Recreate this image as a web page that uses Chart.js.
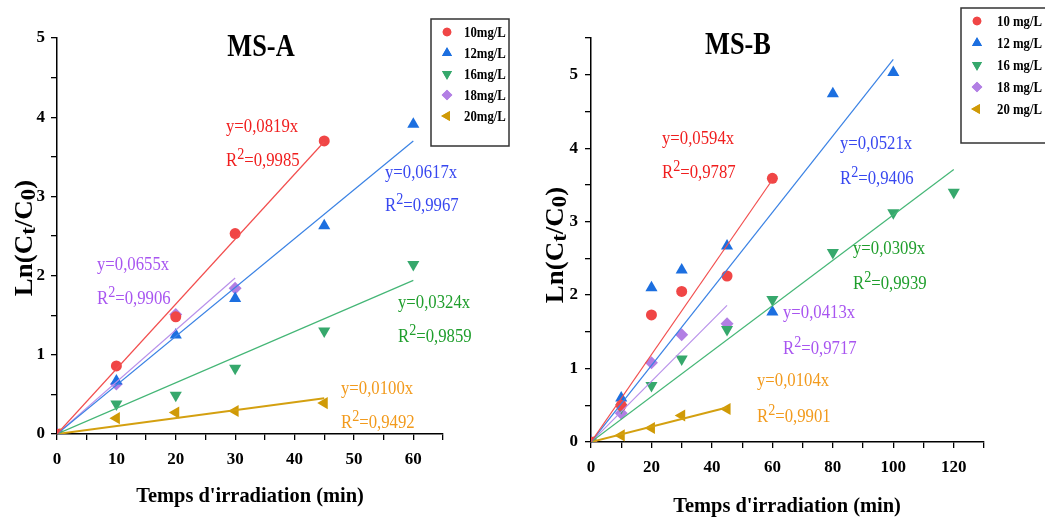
<!DOCTYPE html>
<html>
<head>
<meta charset="utf-8">
<script src="https://cdn.jsdelivr.net/npm/chart.js@4.4.1/dist/chart.umd.min.js"></script>
<style>
  html, body { margin: 0; padding: 0; background: #fff; }
  #wrap { position: relative; width: 1045px; height: 517px; overflow: hidden; }
  #chartA { position: absolute; left: 0; top: 0; }
  #chartB { position: absolute; left: 520px; top: 0; }
</style>
</head>
<body>
<div id="wrap">
  <canvas id="chartA" width="520" height="517"></canvas>
  <canvas id="chartB" width="525" height="517"></canvas>
</div>
<script>
// Données
const nomsA = ['10mg/L', '12mg/L', '16mg/L', '18mg/L', '20mg/L'];
const nomsB = ['10 mg/L', '12 mg/L', '16 mg/L', '18 mg/L', '20 mg/L'];

// MS-A
const tempsA = [0, 10, 20, 30, 45, 60];
const msA10 = [0, 0.86, 1.48, 2.53, 3.70];
const msA12 = [0, 0.67, 1.25, 1.71, 2.63, 3.91];
const msA16 = [0, 0.38, 0.49, 0.83, 1.30, 2.14];
const msA18 = [0, 0.63, 1.51, 1.84];
const msA20 = [0, 0.20, 0.27, 0.29, 0.39];
const finFitXA = [45, 60, 60, 30, 45];
const finFitYA = [3.69, 3.70, 1.94, 1.97, 0.45];
const eqA = ['y=0,0819x', 'y=0,0617x', 'y=0,0324x', 'y=0,0655x', 'y=0,0100x'];
const r2A = ['=0,9985', '=0,9967', '=0,9859', '=0,9906', '=0,9492'];
const ticksXA = [0, 10, 20, 30, 40, 50, 60];
const ticksYA = [0, 1, 2, 3, 4, 5];

// MS-B
const tempsB = [0, 10, 20, 30, 45, 60, 80, 100, 120];
const msB10 = [0, 0.50, 1.73, 2.05, 2.26, 3.59];
const msB12 = [0, 0.60, 2.10, 2.34, 2.67, 1.77, 4.74, 5.03];
const msB16 = [0, 0.47, 0.77, 1.13, 1.53, 1.94, 2.58, 3.12, 3.40];
const msB18 = [0, 0.39, 1.08, 1.46, 1.61];
const msB20 = [0, 0.09, 0.19, 0.36, 0.45];
const finFitXB = [60, 100, 120, 45, 45];
const finFitYB = [3.57, 5.21, 3.71, 1.86, 0.47];
const eqB = ['y=0,0594x', 'y=0,0521x', 'y=0,0309x', 'y=0,0413x', 'y=0,0104x'];
const r2B = ['=0,9787', '=0,9406', '=0,9939', '=0,9717', '=0,9901'];
const ticksXB = [0, 20, 40, 60, 80, 100, 120];
const ticksYB = [0, 1, 2, 3, 4, 5];

// Styles
const couleursPoints = ['#f04646', '#1c6fe0', '#36a86c', '#b27fe4', '#d09a06'];
const couleursLignes = ['#f24e4e', '#3a82e4', '#44b676', '#b890ea', '#d4a010'];
const couleursTexte = ['#f01e1e', '#3848f0', '#1f9e2c', '#a855f0', '#f29a1c'];
const stylesPoints = ['circle', 'triangle', 'triangle', 'rectRot', 'triangle'];
const rotations = [0, 0, 180, 0, 270];
const rayons = [5.5, 7, 7, 6.5, 7];
const epaisseurs = [1.2, 1.2, 1.2, 1.2, 2];
const SERIF = '"Liberation Serif", "Times New Roman", serif';

// Position des équations (px dans le canvas: x gauche, ligne de base y=, ligne de base R2)
const posEqA = [[226, 132, 166], [385, 178, 211], [398, 308, 342], [97, 270, 304], [341, 394, 428]];
const posEqB = [[142, 144, 178], [320, 149, 184], [333, 254, 289], [263, 318, 354], [237, 386, 422]];

function drawRich(ctx, parts, x, y, o) {
  ctx.save();
  ctx.translate(x, y);
  ctx.scale(o.sx || 1, 1);
  if (o.rotate) ctx.rotate(-Math.PI / 2);
  ctx.fillStyle = o.color;
  ctx.textBaseline = 'alphabetic';
  let total = 0;
  parts.forEach(p => {
    ctx.font = `${o.weight} ${o.size * p[1]}px ${SERIF}`;
    total += ctx.measureText(p[0]).width;
  });
  let cx = o.align === 'center' ? -total / 2 : 0;
  parts.forEach(p => {
    ctx.font = `${o.weight} ${o.size * p[1]}px ${SERIF}`;
    ctx.fillText(p[0], cx, p[2] * o.size);
    cx += ctx.measureText(p[0]).width;
  });
  ctx.restore();
}

function decorPlugin(cfg) {
  return {
    id: 'decor',
    afterDraw(chart) {
      const ctx = chart.ctx;
      // Titre
      drawRich(ctx, [[cfg.titre, 1, 0]], cfg.titreX, cfg.titreY, { size: 31, weight: 'bold', color: '#000', sx: 0.85, align: 'center' });
      // Titre axe X
      drawRich(ctx, [['Temps d\'irradiation (min)', 1, 0]], cfg.axeXX, cfg.axeXY, { size: 22, weight: 'bold', color: '#000', sx: 0.93, align: 'center' });
      // Titre axe Y
      drawRich(ctx, [['Ln(C', 1, 0], ['t', 0.85, 0.12], ['/C', 1, 0], ['0', 0.85, 0.12], [')', 1, 0]],
        cfg.axeYX, cfg.axeYY, { size: 27, weight: 'bold', color: '#000', sx: 0.9, rotate: true, align: 'center' });
      // Equations
      cfg.eq.forEach((e, i) => {
        const p = cfg.pos[i];
        drawRich(ctx, [[e, 1, 0]], p[0], p[1], { size: 19, weight: 'normal', color: couleursTexte[i], sx: 0.88 });
        drawRich(ctx, [['R', 1, 0], ['2', 0.85, -0.38], [cfg.r2[i], 1, 0]], p[0], p[2], { size: 19, weight: 'normal', color: couleursTexte[i], sx: 0.88 });
      });
      // Légende
      const L = cfg.legende;
      ctx.save();
      ctx.strokeStyle = '#333';
      ctx.lineWidth = 1.5;
      ctx.strokeRect(L.x, L.y, L.w, L.h);
      cfg.noms.forEach((n, i) => {
        const y = L.y + L.first + i * L.step;
        ctx.fillStyle = couleursPoints[i];
        ctx.strokeStyle = couleursPoints[i];
        Chart.helpers.drawPoint(ctx, { pointStyle: stylesPoints[i], rotation: rotations[i], radius: rayons[i] - 1.2, borderWidth: 0 }, L.x + L.mx, y);
        ctx.fill();
        drawRich(ctx, [[n, 1, 0]], L.x + L.tx, y + 5, { size: 14.5, weight: 'bold', color: '#000', sx: 0.88 });
      });
      ctx.restore();
    }
  };
}

function buildDatasets(temps, series, finX, finY) {
  const ds = [];
  series.forEach((vals, i) => {
    ds.push({
      type: 'line',
      data: [{ x: 0, y: 0 }, { x: finX[i], y: finY[i] }],
      borderColor: couleursLignes[i],
      borderWidth: epaisseurs[i],
      pointRadius: 0,
      fill: false,
      order: 0
    });
  });
  series.forEach((vals, i) => {
    ds.push({
      type: 'scatter',
      data: vals.map((v, k) => ({ x: temps[k], y: v })),
      backgroundColor: couleursPoints[i],
      borderColor: couleursPoints[i],
      borderWidth: 0,
      pointStyle: stylesPoints[i],
      rotation: rotations[i],
      pointRadius: rayons[i],
      order: 1
    });
  });
  return ds;
}

function axes(o) {
  const font = { family: SERIF, size: 17, weight: 'bold' };
  const common = {
    type: 'linear',
    grid: { display: true, drawOnChartArea: false, drawTicks: true, tickLength: 6, color: '#000', lineWidth: 1.3 },
    border: { display: true, color: '#000', width: 1.5 }
  };
  return {
    x: Object.assign({}, common, {
      min: 0, max: o.xMax,
      afterFit(s) { s.height = o.xHeight; },
      afterBuildTicks(s) {
        const t = [];
        for (let v = 0; v <= o.xMax + 1e-9; v += o.xMinor) t.push({ value: v });
        s.ticks = t;
      },
      ticks: { font, color: '#000', padding: 9, maxRotation: 0, autoSkip: false,
        callback: v => o.xTicks.includes(v) ? String(v) : '' }
    }),
    y: Object.assign({}, common, {
      min: 0, max: o.yMax,
      afterFit(s) { s.width = o.yWidth; },
      afterBuildTicks(s) {
        const t = [];
        for (let v = 0; v <= o.yMax + 1e-9; v += 0.5) t.push({ value: v });
        s.ticks = t;
      },
      ticks: { font, color: '#000', padding: o.yPad, autoSkip: false,
        callback: v => o.yTicks.includes(v) ? String(v) : '' }
    })
  };
}

new Chart(document.getElementById('chartA').getContext('2d'), {
  data: { datasets: buildDatasets(tempsA, [msA10, msA12, msA16, msA18, msA20], finFitXA, finFitYA) },
  options: {
    responsive: false,
    animation: false,
    layout: { padding: { top: 38, right: 77, left: 0, bottom: 0 } },
    scales: axes({ xMax: 65, xMinor: 5, xTicks: ticksXA, xHeight: 83, yMax: 5, yTicks: ticksYA, yWidth: 57, yPad: 6 }),
    plugins: { legend: { display: false }, tooltip: { enabled: false } }
  },
  plugins: [decorPlugin({
    titre: 'MS-A', titreX: 261, titreY: 56,
    axeXX: 250, axeXY: 502,
    axeYX: 32, axeYY: 238,
    eq: eqA, r2: r2A, pos: posEqA, noms: nomsA,
    legende: { x: 431, y: 19, w: 78, h: 127, first: 13, step: 21, mx: 16, tx: 33 }
  })]
});

new Chart(document.getElementById('chartB').getContext('2d'), {
  data: { datasets: buildDatasets(tempsB, [msB10, msB12, msB16, msB18, msB20], finFitXB, finFitYB) },
  options: {
    responsive: false,
    animation: false,
    layout: { padding: { top: 38, right: 61, left: 0, bottom: 0 } },
    scales: axes({ xMax: 130, xMinor: 10, xTicks: ticksXB, xHeight: 75, yMax: 5.5, yTicks: ticksYB, yWidth: 71, yPad: 7 }),
    plugins: { legend: { display: false }, tooltip: { enabled: false } }
  },
  plugins: [decorPlugin({
    titre: 'MS-B', titreX: 218, titreY: 54,
    axeXX: 267, axeXY: 512,
    axeYX: 43, axeYY: 245,
    eq: eqB, r2: r2B, pos: posEqB, noms: nomsB,
    legende: { x: 441, y: 8, w: 100, h: 135, first: 13, step: 22, mx: 16, tx: 36 }
  })]
});
</script>
</body>
</html>
